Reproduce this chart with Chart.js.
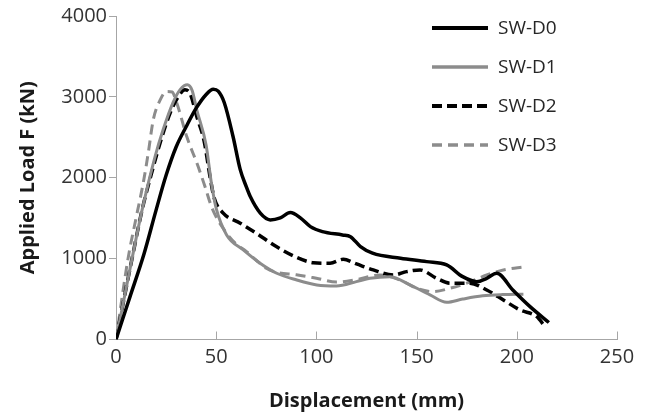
<!DOCTYPE html>
<html>
<head>
<meta charset="utf-8">
<script src="https://cdn.jsdelivr.net/npm/chart.js@4.4.1/dist/chart.umd.min.js"></script>
<style>
  html, body { margin: 0; padding: 0; background: #fff; }
  #wrap { width: 653px; height: 414px; }
</style>
</head>
<body>
<div id="wrap"><canvas id="grafica"></canvas></div>
<script>
// Datos (desplazamiento mm, carga kN)
const seriesNames = ["SW-D0", "SW-D1", "SW-D2", "SW-D3"];

const d0X = [0, 7, 14, 20, 25, 30, 35, 40, 45, 48.5, 51, 54, 58.4, 62, 65, 67, 72, 77, 82, 87, 92, 97, 103, 113, 117, 122, 128, 142, 155, 165, 173, 180, 185, 190, 198, 206.6, 216];
const d0Y = [0, 530, 1060, 1600, 2030, 2380, 2630, 2860, 3030, 3095, 3070, 2930, 2510, 2100, 1890, 1767, 1562, 1479, 1504, 1569, 1504, 1396, 1334, 1293, 1272, 1149, 1067, 1005, 963, 922, 777, 715, 757, 819, 612, 406, 210];

const d1X = [0, 8, 13, 19.5, 23.5, 28.4, 32, 35.6, 38, 40.3, 45, 47.5, 50, 55.2, 63.5, 71.9, 80.2, 90.2, 100.2, 110, 120, 126.7, 136.7, 146.7, 156.7, 165, 173, 183, 193, 203.3];
const d1Y = [0, 1000, 1600, 2262, 2593, 2927, 3090, 3150, 3080, 2840, 2400, 1950, 1620, 1293, 1108, 943, 819, 736, 675, 662, 716, 757, 777, 675, 551, 460, 500, 540, 555, 560];

const d2X = [0, 8, 13, 17.8, 22, 27, 31, 34.4, 37, 40.3, 44, 47, 49, 53.5, 62, 70, 80, 90, 98.5, 106.8, 113.4, 120, 128.4, 138.4, 145, 151.7, 160, 166.7, 176.6, 185, 193.3, 201.6, 210, 214];
const d2Y = [0, 1000, 1600, 2060, 2430, 2800, 3000, 3088, 3040, 2757, 2450, 2000, 1750, 1562, 1438, 1314, 1149, 1017, 950, 943, 992, 934, 860, 798, 839, 860, 757, 696, 696, 612, 489, 365, 282, 160];

const d3X = [0, 6, 10, 13.6, 16.1, 18.6, 22, 25.3, 28, 30.3, 35.3, 41, 44.4, 48, 55, 60, 65, 70, 75, 80, 90, 100, 110, 120, 131.7, 141.7, 150, 158.3, 166.7, 175, 185, 193.3, 204];
const d3Y = [0, 1000, 1500, 1937, 2307, 2717, 2960, 3067, 3060, 2927, 2510, 2139, 1891, 1620, 1320, 1180, 1090, 980, 880, 830, 800, 757, 710, 740, 798, 736, 634, 592, 634, 696, 798, 860, 900];

const xTicks = [0, 50, 100, 150, 200, 250];
const yTicks = [0, 1000, 2000, 3000, 4000];

const NEGRO = "#000000";
const GRIS = "#8c8c8c";
const EJE = "#a6a6a6";
const FUENTE = "'Open Sans', 'Liberation Sans', sans-serif";

function pts(xs, ys) { return xs.map((x, i) => ({ x: x, y: ys[i] })); }

const estilos = [
  { color: NEGRO, width: 3.5, dash: [] },
  { color: GRIS, width: 3, dash: [] },
  { color: NEGRO, width: 3.5, dash: [10, 5] },
  { color: GRIS, width: 3, dash: [10, 6] }
];
const series = [pts(d0X, d0Y), pts(d1X, d1Y), pts(d2X, d2Y), pts(d3X, d3Y)];

// Leyenda dentro del área y marcas de eje hacia adentro
const extras = {
  id: "extras",
  afterDatasetsDraw(chart) {
    const ctx = chart.ctx;
    const xs = chart.scales.x, ys = chart.scales.y;
    ctx.save();
    ctx.strokeStyle = EJE;
    ctx.lineWidth = 1;
    ctx.setLineDash([]);
    xTicks.forEach(v => {
      if (v === 0) return;
      const px = Math.round(xs.getPixelForValue(v)) + 0.5;
      ctx.beginPath();
      ctx.moveTo(px, ys.bottom);
      ctx.lineTo(px, ys.bottom - 8);
      ctx.stroke();
    });
    // leyenda
    const x0 = 432, x1 = 488, yTop = 28, paso = 39;
    ctx.font = "19px " + FUENTE;
    ctx.textBaseline = "middle";
    ctx.textAlign = "left";
    seriesNames.forEach((n, i) => {
      const e = estilos[i];
      const y = yTop + i * paso;
      ctx.strokeStyle = e.color;
      ctx.lineWidth = e.width + 0.5;
      ctx.setLineDash(e.dash);
      ctx.beginPath();
      ctx.moveTo(x0, y);
      ctx.lineTo(x1, y);
      ctx.stroke();
      ctx.fillStyle = "#262626";
      ctx.fillText(n, 498, y + 1);
    });
    ctx.restore();
  }
};

new Chart(document.getElementById("grafica"), {
  type: "line",
  data: {
    datasets: series.map((d, i) => ({
      label: seriesNames[i],
      data: d,
      borderColor: estilos[i].color,
      borderWidth: estilos[i].width,
      borderDash: estilos[i].dash,
      pointRadius: 0,
      fill: false,
      cubicInterpolationMode: "monotone"
    }))
  },
  options: {
    responsive: true,
    maintainAspectRatio: false,
    animation: false,
    layout: { padding: { top: 16, right: 36, left: 0, bottom: 0 } },
    plugins: { legend: { display: false }, tooltip: { enabled: false } },
    scales: {
      x: {
        type: "linear",
        min: 0, max: 250,
        afterBuildTicks: s => { s.ticks = xTicks.map(v => ({ value: v })); },
        afterFit: s => { s.height = 74.5; },
        grid: { drawOnChartArea: false, drawTicks: false },
        border: { color: EJE, width: 1 },
        ticks: { color: "#333", padding: 6, font: { family: FUENTE, size: 20 }, callback: v => String(v) },
        title: {
          display: true, text: "Displacement (mm)", color: "#1a1a1a",
          padding: { top: 0, bottom: 1 },
          font: { family: FUENTE, size: 20, weight: "bold" }
        }
      },
      y: {
        min: 0, max: 4000,
        afterBuildTicks: s => { s.ticks = yTicks.map(v => ({ value: v })); },
        afterFit: s => { s.width = 116; },
        grid: { drawOnChartArea: false, drawTicks: true, tickLength: 7, color: EJE },
        border: { color: EJE, width: 1 },
        ticks: { color: "#333", padding: 2, font: { family: FUENTE, size: 20 }, callback: v => String(v) },
        title: {
          display: true, text: "Applied Load F (kN)", color: "#1a1a1a",
          padding: { top: 16, bottom: 0 },
          font: { family: FUENTE, size: 20, weight: "bold" }
        }
      }
    }
  },
  plugins: [extras]
});
</script>
</body>
</html>
